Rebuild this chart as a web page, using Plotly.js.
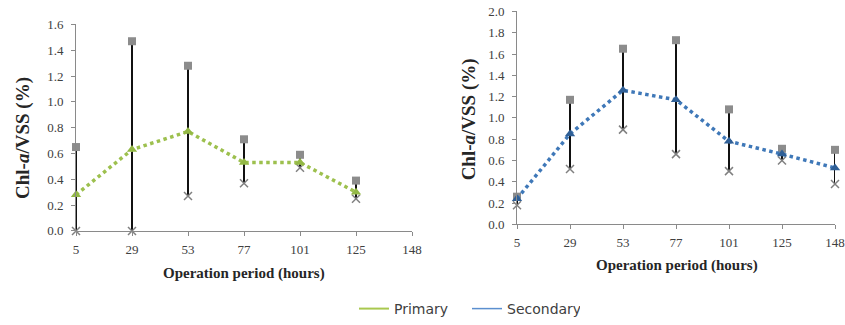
<!DOCTYPE html>
<html>
<head>
<meta charset="utf-8">
<script src="https://cdn.plot.ly/plotly-3.0.1.min.js"></script>
<style>html,body{margin:0;padding:0;background:#fff;}#chart{width:845px;height:325px;}</style>
</head>
<body>
<div id="chart"></div>
<script>
// Category labels (operation period, hours)
const hours = ['5', '29', '53', '77', '101', '125', '148'];

// Primary reactor (no value at 148 h)
const primaryHours = ['5', '29', '53', '77', '101', '125'];
const primaryMean = [0.28, 0.63, 0.77, 0.53, 0.53, 0.30];
const primaryMax  = [0.65, 1.47, 1.28, 0.71, 0.59, 0.39];
const primaryMin  = [0.00, 0.00, 0.27, 0.37, 0.49, 0.25];

// Secondary reactor
const secondaryHours = ['5', '29', '53', '77', '101', '125', '148'];
const secondaryMean = [0.24, 0.85, 1.26, 1.17, 0.78, 0.66, 0.53];
const secondaryMax  = [0.26, 1.17, 1.65, 1.73, 1.08, 0.71, 0.70];
const secondaryMin  = [0.18, 0.52, 0.89, 0.66, 0.50, 0.60, 0.38];

const green = '#9dc04e';
const blue = '#3f78b8';
const grey = '#8c8c8c';

function panel(xs, mean, mx, mn, color, triColor, xa, ya) {
  return [
    { // high-low lines
      x: xs, y: mean, xaxis: xa, yaxis: ya, type: 'scatter', mode: 'none',
      showlegend: false, hoverinfo: 'skip', cliponaxis: false,
      error_y: { type: 'data', symmetric: false,
        array: mx.map((v, i) => v - mean[i]),
        arrayminus: mn.map((v, i) => mean[i] - v),
        color: '#111', thickness: 2, width: 0 }
    },
    { x: xs, y: mx, xaxis: xa, yaxis: ya, type: 'scatter', mode: 'markers',
      showlegend: false, cliponaxis: false,
      marker: { symbol: 'square', size: 8, color: grey } },
    { x: xs, y: mn, xaxis: xa, yaxis: ya, type: 'scatter', mode: 'markers',
      showlegend: false, cliponaxis: false,
      marker: { symbol: 'x-thin', size: 8, line: { color: '#808080', width: 1.5 } } },
    { x: xs, y: mean, xaxis: xa, yaxis: ya, type: 'scatter', mode: 'lines+markers',
      showlegend: false, cliponaxis: false,
      line: { color: color, width: 3.5, dash: 'dot' },
      marker: { symbol: 'triangle-up', size: 9, color: triColor } }
  ];
}

const traces = []
  .concat(panel(primaryHours, primaryMean, primaryMax, primaryMin, green, '#93b845', 'x', 'y'))
  .concat(panel(secondaryHours, secondaryMean, secondaryMax, secondaryMin, blue, '#2f5f96', 'x2', 'y2'));

// legend entries
traces.push({ x: [null], y: [null], type: 'scatter', mode: 'lines', name: 'Primary',
  line: { color: '#a9c84f', width: 2 }, xaxis: 'x', yaxis: 'y' });
traces.push({ x: [null], y: [null], type: 'scatter', mode: 'lines', name: 'Secondary',
  line: { color: '#5b8fcf', width: 1.5 }, xaxis: 'x', yaxis: 'y' });

const serif = '"Liberation Serif", "Times New Roman", serif';
const tickFont = { family: serif, size: 13, color: '#404040' };
const titleFont = { family: serif, size: 15, color: '#262626' };
const yTitleFont = { family: serif, size: 19, color: '#262626' };

function xAxis(domain, anchor) {
  return { domain: domain, anchor: anchor, type: 'category', categoryarray: hours,
    categoryorder: 'array', range: [0, 6], showgrid: false, zeroline: false,
    showline: true, linecolor: '#8a8a8a', linewidth: 1, ticks: 'outside', ticklen: 4,
    tickcolor: '#8a8a8a', tickfont: tickFont, ticklabelstandoff: 2, fixedrange: true };
}
function yAxis(domain, anchor, range, dtick) {
  return { domain: domain, anchor: anchor, range: range, dtick: dtick, tick0: 0,
    tickformat: '.1f', showgrid: false, zeroline: false, showline: true,
    linecolor: '#8a8a8a', linewidth: 1, ticks: 'outside', ticklen: 4, tickcolor: '#8a8a8a',
    tickfont: tickFont, ticklabelstandoff: 5, fixedrange: true };
}

const layout = {
  width: 845, height: 325,
  margin: { l: 0, r: 0, t: 0, b: 0 },
  paper_bgcolor: '#ffffff', plot_bgcolor: '#ffffff',
  font: { family: serif },
  xaxis: xAxis([76 / 845, 412 / 845], 'y'),
  yaxis: yAxis([1 - 236 / 325, 1 - 25 / 325], 'x', [0, 1.6], 0.2),
  xaxis2: xAxis([517 / 845, 835 / 845], 'y2'),
  yaxis2: yAxis([1 - 229.3 / 325, 1 - 11.7 / 325], 'x2', [0, 2.0], 0.2),
  showlegend: true,
  legend: { orientation: 'h', x: 354 / 845, xanchor: 'left', y: 0.028, yanchor: 'middle',
    font: { family: '"DejaVu Sans", sans-serif', size: 14, color: '#404040' },
    bgcolor: 'rgba(0,0,0,0)', itemwidth: 30, tracegroupgap: 0, entrywidth: 68 },
  annotations: [
    { text: '<b>Operation period (hours)</b>', xref: 'paper', yref: 'paper',
      x: 244 / 845, y: 1 - 280 / 325, xanchor: 'center', yanchor: 'middle',
      showarrow: false, font: titleFont },
    { text: '<b>Operation period (hours)</b>', xref: 'paper', yref: 'paper',
      x: 677 / 845, y: 1 - 271 / 325, xanchor: 'center', yanchor: 'middle',
      showarrow: false, font: titleFont },
    { text: '<b>Chl-<i>a</i>/VSS (%)</b>', xref: 'paper', yref: 'paper',
      x: 23 / 845, y: 1 - 141 / 325, xanchor: 'center', yanchor: 'middle',
      textangle: -90, showarrow: false, font: yTitleFont },
    { text: '<b>Chl-<i>a</i>/VSS (%)</b>', xref: 'paper', yref: 'paper',
      x: 469 / 845, y: 1 - 122 / 325, xanchor: 'center', yanchor: 'middle',
      textangle: -90, showarrow: false, font: yTitleFont }
  ]
};

Plotly.newPlot('chart', traces, layout, { staticPlot: true, displayModeBar: false });
</script>
</body>
</html>
